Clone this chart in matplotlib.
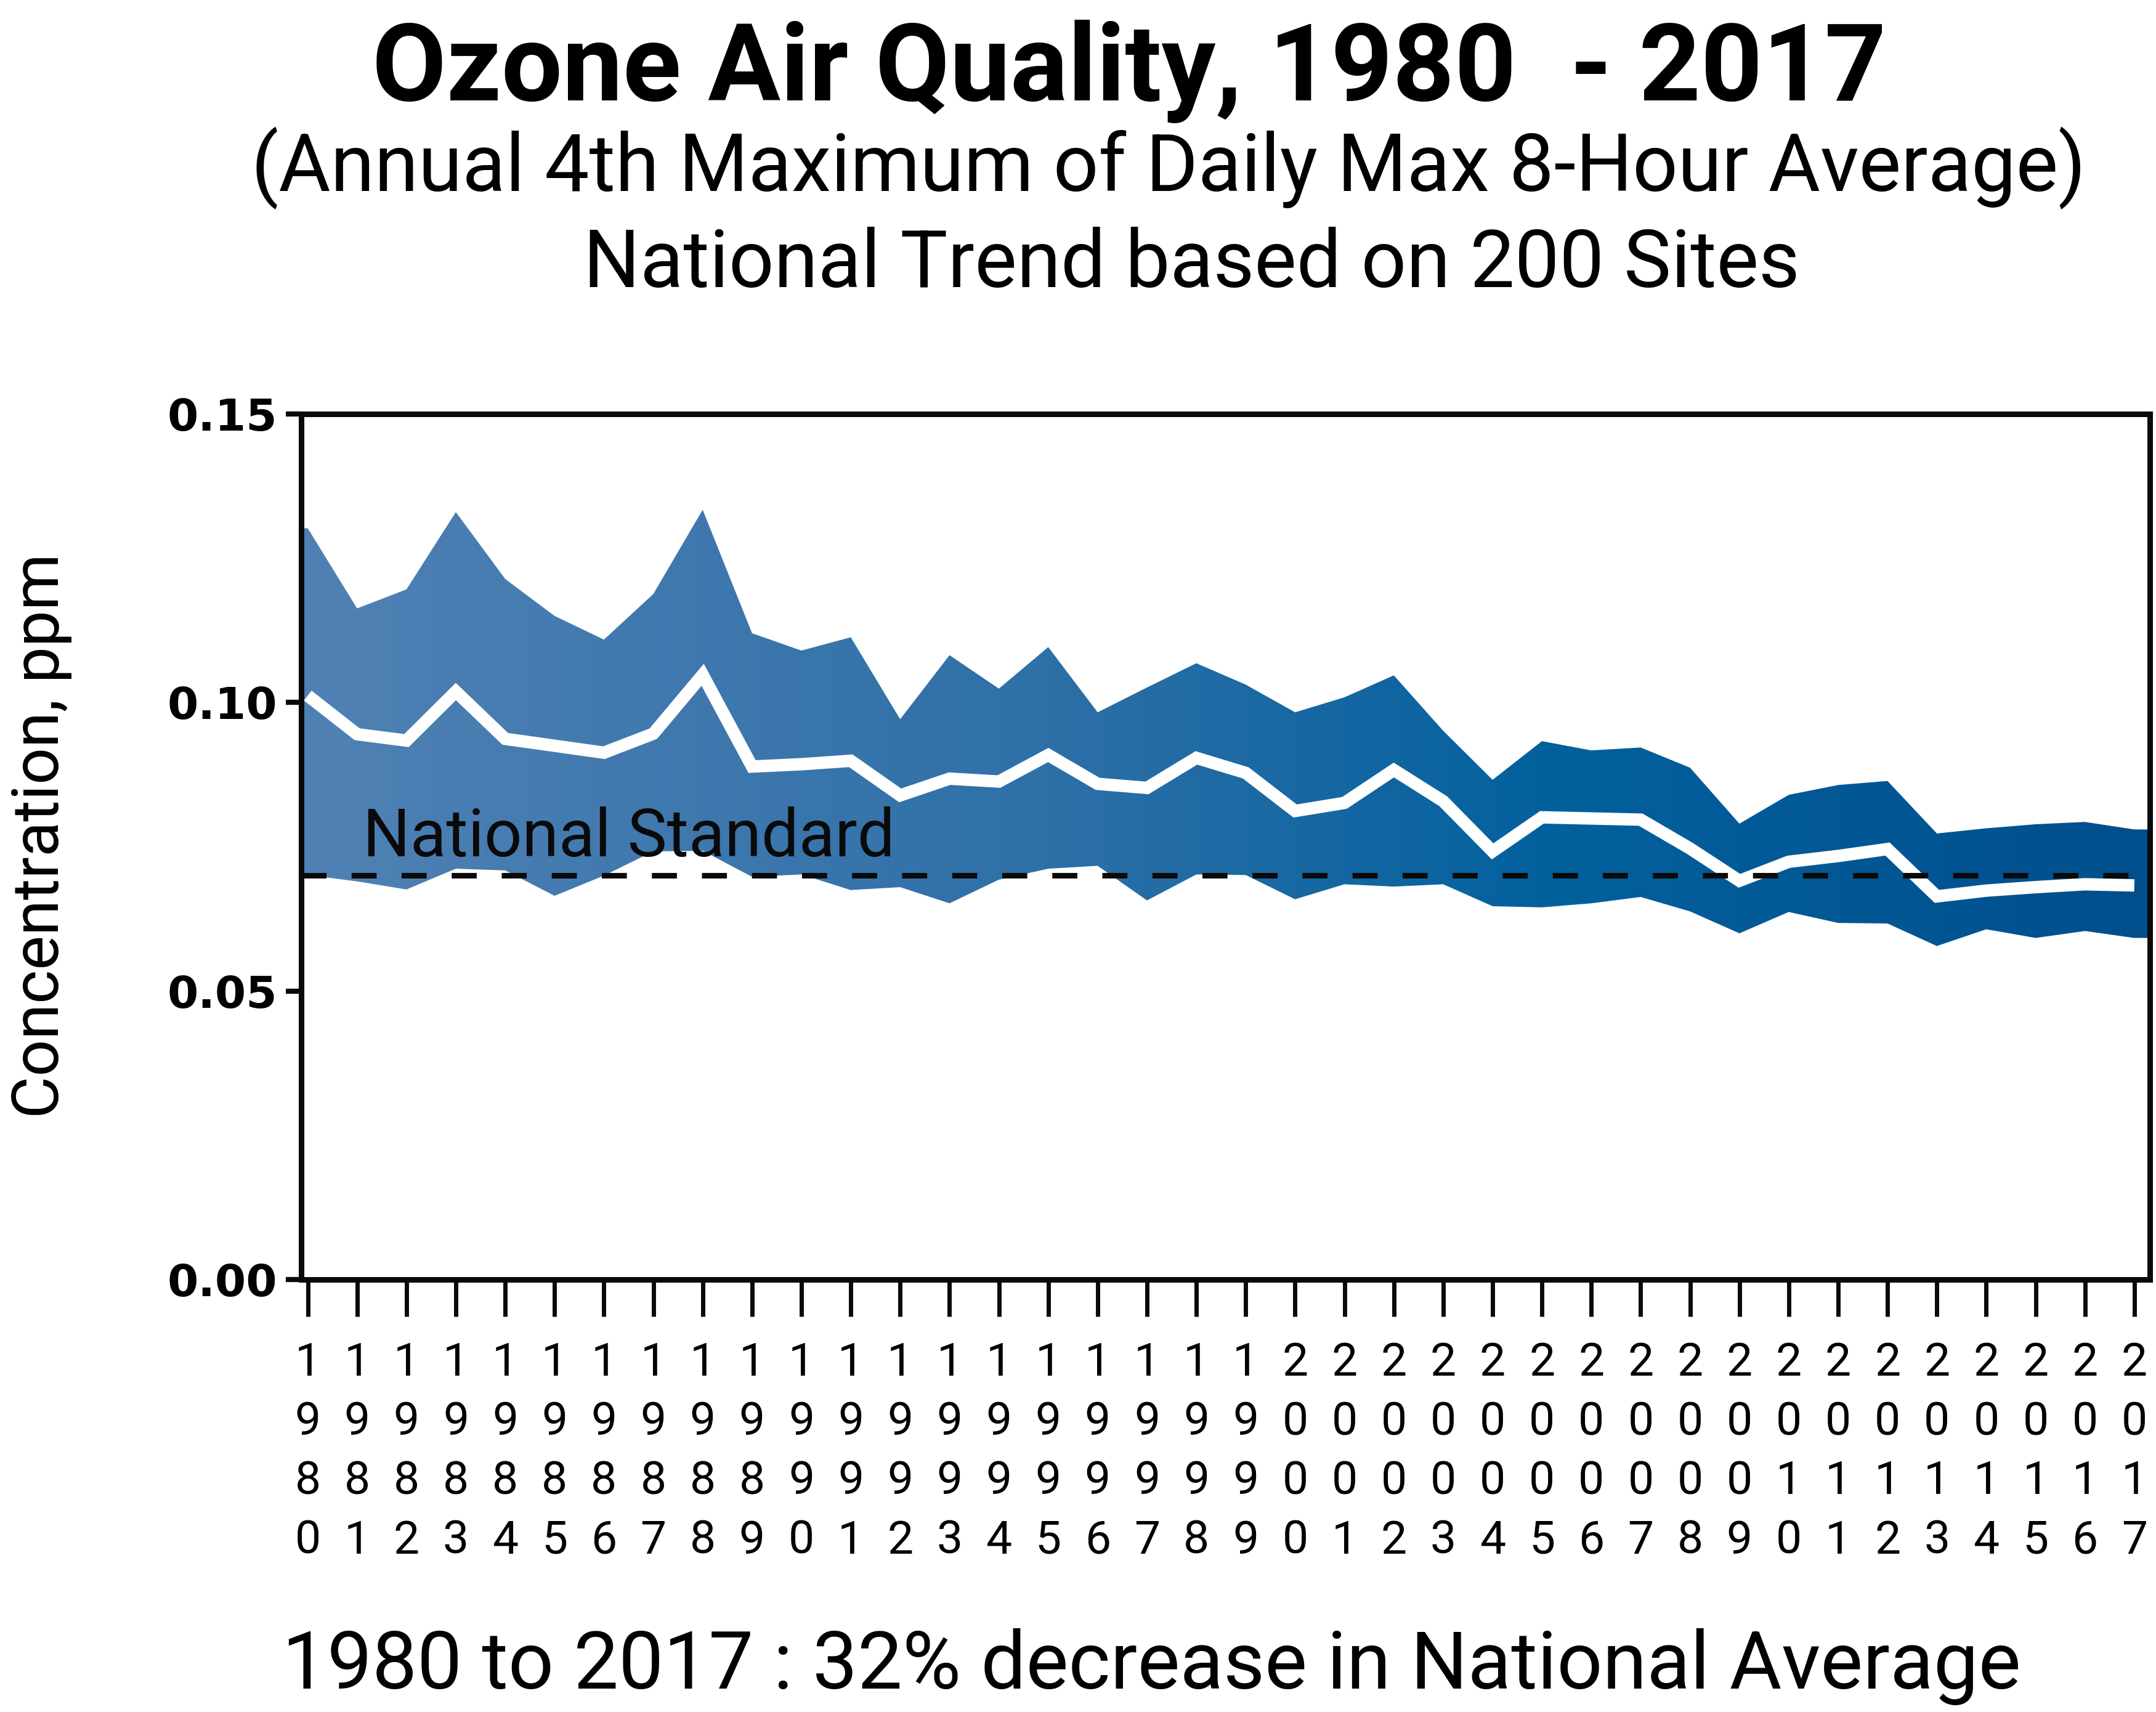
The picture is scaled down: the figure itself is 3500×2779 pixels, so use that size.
import numpy as np
import matplotlib
matplotlib.use("Agg")
import matplotlib.pyplot as plt
from matplotlib import font_manager
from matplotlib.colors import LinearSegmentedColormap

# national ozone trend, ppm
years = np.arange(1980, 2018)
upper = [0.1302, 0.1163, 0.1196, 0.1330, 0.1214, 0.1150, 0.1109, 0.1188, 0.1334, 0.1120,
         0.1090, 0.1113, 0.0971, 0.1082, 0.1024, 0.1096, 0.0983, 0.1026, 0.1068, 0.1031,
         0.0983, 0.1009, 0.1047, 0.0951, 0.0866, 0.0933, 0.0917, 0.0922, 0.0887, 0.0790,
         0.0840, 0.0857, 0.0864, 0.0773, 0.0782, 0.0789, 0.0793, 0.0780]
average = [0.1012, 0.0945, 0.0934, 0.1019, 0.0937, 0.0925, 0.0913, 0.0946, 0.1048, 0.0889,
           0.0893, 0.0899, 0.0839, 0.0868, 0.0863, 0.0909, 0.0859, 0.0852, 0.0904, 0.0878,
           0.0812, 0.0826, 0.0883, 0.0829, 0.0742, 0.0801, 0.0799, 0.0797, 0.0747, 0.0691,
           0.0724, 0.0734, 0.0746, 0.0664, 0.0674, 0.0680, 0.0685, 0.0683]
lower = [0.0701, 0.0690, 0.0676, 0.0712, 0.0709, 0.0665, 0.0700, 0.0742, 0.0743, 0.0698,
         0.0702, 0.0675, 0.0680, 0.0652, 0.0693, 0.0712, 0.0717, 0.0657, 0.0702, 0.0701,
         0.0659, 0.0685, 0.0681, 0.0685, 0.0647, 0.0645, 0.0652, 0.0663, 0.0638, 0.0600,
         0.0637, 0.0618, 0.0617, 0.0578, 0.0607, 0.0592, 0.0604, 0.0592]
standard = 0.070
yticks = [0.00, 0.05, 0.10, 0.15]
ytick_labels = ["0.00", "0.05", "0.10", "0.15"]

title = "Ozone Air Quality, 1980  - 2017"
subtitle = "(Annual 4th Maximum of Daily Max 8-Hour Average)"
subtitle2 = "National Trend based on 200 Sites"
note = "1980 to 2017 : 32% decrease in National Average"
ylabel = "Concentration, ppm"
std_label = "National Standard"

DPI = 100
installed = {f.name for f in font_manager.fontManager.ttflist}
FONT = "Liberation Sans Narrow" if "Liberation Sans Narrow" in installed else "Roboto"
plt.rcParams["font.family"] = FONT

fig = plt.figure(figsize=(35, 27.79), dpi=DPI)
ax = fig.add_axes([0.1396, 0.2526, 0.8575, 0.5056])

x0, x1 = 1979.863, 2017.312
xs = np.r_[x0, years, x1]
hi = np.r_[upper[0], upper, upper[-1]]
lo = np.r_[lower[0], lower, lower[-1]]

# band filled with a left-to-right blue gradient
band = ax.fill_between(xs, lo, hi, facecolor="none", edgecolor="none")
cmap = LinearSegmentedColormap.from_list(
    "ozone", [(0, "#5081b4"), (0.4, "#2e70a8"), (0.67, "#03619e"), (1, "#004f8c")])
grad = np.linspace(0, 1, 512).reshape(1, -1)
im = ax.imshow(grad, extent=[x0, x1, 0, 0.15], aspect="auto", cmap=cmap,
               origin="lower", zorder=1, interpolation="bilinear")
im.set_clip_path(band.get_paths()[0], transform=ax.transData)

ax.plot(years, average, color="white", lw=14.5, solid_joinstyle="miter",
        solid_capstyle="butt", zorder=3)
ax.axhline(standard, color="#0a0a0a", lw=6.5, dashes=(4.5, 4.5), zorder=4)
std_txt = ax.text(1981.12, 0.0733, std_label, fontsize=60, color="#0a0a0a",
                  ha="left", va="baseline", zorder=5)

ax.set_xlim(x0, x1)
ax.set_ylim(0, 0.15)
for s in ax.spines.values():
    s.set_linewidth(6.5)
    s.set_color("#0a0a0a")

ax.set_yticks(yticks)
ax.set_yticklabels(ytick_labels, fontfamily="DejaVu Sans", fontweight="bold", fontsize=52)
ax.tick_params(axis="y", length=18, width=6, pad=10, color="#0a0a0a")
ax.set_xticks(years)
ax.set_xticklabels(["\n".join(str(y)) for y in years], fontsize=54, linespacing=1.45)
ax.tick_params(axis="x", length=43, width=5, pad=29, color="#0a0a0a")

t_title = fig.text(0.5237, 0.9415, title, fontsize=120, fontweight="bold",
                   ha="center", va="baseline")
t_sub = fig.text(0.542, 0.8884, subtitle, fontsize=90, ha="center", va="baseline")
t_sub2 = fig.text(0.5527, 0.8323, subtitle2, fontsize=90, ha="center", va="baseline")
t_note = fig.text(0.534, 0.0137, note, fontsize=95, ha="center", va="baseline")
t_ylab = fig.text(0.0191, 0.512, ylabel, fontsize=80, rotation=90,
                  ha="center", va="center")


def fit(t, length_px, cap_px, vertical=False):
    # shrink text so it covers about the same length as in the reference
    r = fig.canvas.get_renderer()
    bb = t.get_window_extent(r)
    size = t.get_fontsize()
    cur = bb.height if vertical else bb.width
    by_len = size * length_px / cur
    by_cap = cap_px / 0.72 * 72 / DPI
    t.set_fontsize(min(by_len, by_cap))


fig.canvas.draw()
fit(t_title, 2515, 126)
fit(t_sub, 3036, 93)
fit(t_sub2, 2007, 93)
fit(t_note, 2823, 100)
fit(t_ylab, 917, 80, vertical=True)
fit(std_txt, 864, 81)

fig.savefig("out.png", dpi=DPI)
